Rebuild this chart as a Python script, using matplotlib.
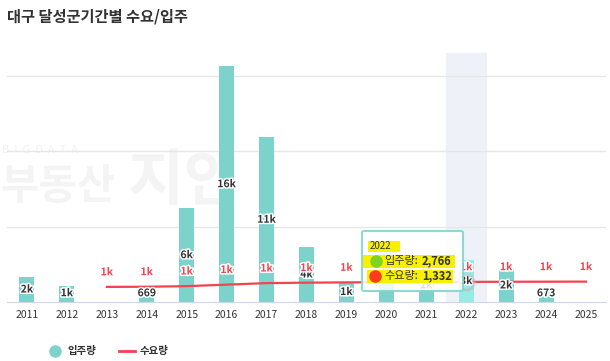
import matplotlib
matplotlib.use("Agg")
import matplotlib.pyplot as plt
import matplotlib.patheffects as pe
from matplotlib.patches import FancyBboxPatch, Rectangle
from matplotlib.lines import Line2D
import numpy as np

plt.rcParams['font.family'] = ['Noto Sans CJK KR', 'DejaVu Sans']

years = [str(y) for y in range(2011, 2026)]
supply = [1650, 1060, 0, 669, 6200, 15600, 10900, 3640, 1320, 3450, 2200, 2766, 2190, 673, 0]
supply_labels = ["2k", "1k", "", "669", "6k", "16k", "11k", "4k", "1k", "3k", "2k", "3k", "2k", "673", ""]
demand_years = years[2:]
demand = [1000, 1010, 1050, 1150, 1250, 1280, 1300, 1310, 1320, 1332, 1340, 1345, 1350]
demand_labels = ["1k"] * len(demand)
highlight = "2022"

BAR = "#7dd3cc"
BAR_HOVER = "#98ebe4"
RED = "#f2434e"
DARK = "#333333"

W, H = 610, 361
fig = plt.figure(figsize=(W / 100, H / 100), dpi=100)
ax = fig.add_axes([7 / W, (H - 302) / H, 599 / W, 302 / H])
ax.set_xlim(-0.5, len(years) - 0.5)
ax.set_ylim(0, 20000)
ax.patch.set_visible(False)


def fx(px):
    return px / W


def fy(py):
    return 1 - py / H


# watermark (behind the bars)
wm = dict(transform=fig.transFigure, va="center", zorder=0.2, clip_on=False)
ax.text(fx(2), fy(150), "B  I  G  D  A  T  A", fontsize=8, color="#f1f1f1", **wm)
ax.text(fx(0), fy(187), "부동산", fontsize=30, fontweight="bold", color="#f4f4f4", **wm)
ax.text(fx(127), fy(182), "지인", fontsize=44, fontweight="bold", color="#f4f4f4", **wm)

x = np.arange(len(years))
hi = years.index(highlight)
ax.axvspan(hi - 0.5, hi + 0.5, ymax=(302 - 53) / 302, color="#eef2f8", zorder=0)

for v in (5000, 10000, 15000):
    ax.axhline(v, color="#e6e6e6", lw=1, zorder=0.5)

colors = [BAR_HOVER if y == highlight else BAR for y in years]
ax.bar(x, supply, width=0.375, color=colors, zorder=2)

outline = [pe.withStroke(linewidth=2.2, foreground="white")]
for xi, v, lab in zip(x, supply, supply_labels):
    if not lab:
        continue
    yc = max(v / 2, 580)
    ax.text(xi, yc, lab, ha="center", va="center", fontsize=7.5, fontweight="bold",
            color=DARK, path_effects=outline, zorder=4)

dx = [years.index(y) for y in demand_years]
ax.plot(dx, demand, color=RED, lw=1.6, zorder=3)
for xi, v, lab in zip(dx, demand, demand_labels):
    ax.annotate(lab, (xi, v), xytext=(0, 10.5), textcoords="offset points", ha="center",
                va="center", fontsize=7.5, fontweight="bold", color=RED,
                path_effects=outline, zorder=5)
# hover marker on the highlighted point
hv = demand[demand_years.index(highlight)]
ax.plot([hi], [hv], "o", ms=11, mfc="none", mec="#bbbbbb", alpha=0.6, mew=2, zorder=4)

for s in ("top", "left", "right"):
    ax.spines[s].set_visible(False)
ax.spines["bottom"].set_color("#ccd6eb")
ax.set_yticks([])
ax.set_xticks(x)
ax.set_xticklabels(years, fontsize=7.5, color=DARK)
ax.tick_params(axis="x", length=0, pad=6)

fig.text(7 / W, 1 - 17 / H, "대구 달성군기간별 수요/입주", fontsize=11, fontweight="bold",
         color=DARK, va="center")

# tooltip
tip = FancyBboxPatch((fx(362), fy(291)), fx(101), 60 / H, boxstyle="round,pad=0,rounding_size=0.004",
                     transform=fig.transFigure, facecolor="white", alpha=0.85,
                     edgecolor=BAR, lw=1.5, zorder=10)
fig.add_artist(tip)
for (x0, y0, w, h) in [(368, 241, 32, 11), (363, 255, 92, 13), (367, 270, 86, 13)]:
    fig.add_artist(Rectangle((fx(x0), fy(y0 + h)), w / W, h / H, transform=fig.transFigure,
                             facecolor="#f7f000", edgecolor="none", zorder=11))
fig.text(fx(370), fy(246), highlight, fontsize=7, color=DARK, va="center", zorder=12)
fig.add_artist(Line2D([fx(376)], [fy(261)], marker="o", ms=8, color="#7ed321",
                      transform=fig.transFigure, zorder=12))
fig.add_artist(Line2D([fx(375)], [fy(276)], marker="o", ms=8, color="#ff3b1f",
                      transform=fig.transFigure, zorder=12))
sv = supply[hi]
for py, name, val in [(261, "입주량:", sv), (276, "수요량:", hv)]:
    t = fig.text(fx(384), fy(py), name, fontsize=8, color=DARK, va="center", zorder=12)
    fig.add_artist(plt.Annotation(f"{val:,}", xy=(1, 0.5), xycoords=t, xytext=(3, 0),
                                  textcoords="offset points", va="center", ha="left",
                                  fontsize=8, fontweight="bold", color=DARK, zorder=12))

# legend
fig.add_artist(Line2D([fx(55)], [fy(351)], marker="o", ms=8, color=BAR, transform=fig.transFigure))
fig.text(fx(67), fy(351), "입주량", fontsize=7.5, fontweight="bold", color=DARK, va="center")
fig.add_artist(Line2D([fx(119), fx(135)], [fy(351), fy(351)], color=RED, lw=2, transform=fig.transFigure))
fig.text(fx(140), fy(351), "수요량", fontsize=7.5, fontweight="bold", color=DARK, va="center")

fig.savefig("out.png", dpi=100)
